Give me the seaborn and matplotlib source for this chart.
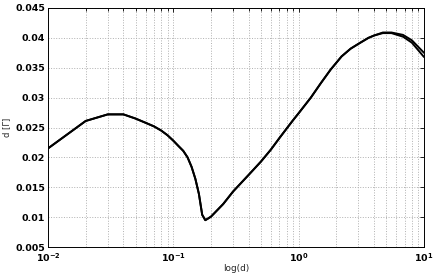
import matplotlib
matplotlib.use('Agg')
import matplotlib.pyplot as plt
import seaborn as sns
import pandas as pd

# values
d_vals = [0.01, 0.02, 0.03, 0.04, 0.05, 0.06, 0.07, 0.08, 0.09, 0.10, 0.11, 0.12, 0.13,
          0.14, 0.15, 0.16, 0.17, 0.18, 0.19, 0.20, 0.25, 0.30, 0.40, 0.50, 0.60, 0.70,
          0.80, 0.90, 1.0, 1.25, 1.5, 1.8, 2.2, 2.6, 3.05, 3.6, 4.0, 4.7, 5.5, 6.8, 8.0, 10.0]
gamma_vals = [0.0215, 0.0261, 0.0272, 0.0272, 0.0265, 0.0258, 0.0252, 0.0245, 0.0237, 0.0228,
              0.0219, 0.0211, 0.0200, 0.0184, 0.0164, 0.0139, 0.0104, 0.0095, 0.0098, 0.0101,
              0.0122, 0.0143, 0.0171, 0.0193, 0.0213, 0.0232, 0.0248, 0.0262, 0.0274, 0.0300,
              0.0324, 0.0347, 0.0369, 0.0382, 0.0391, 0.0400, 0.0404, 0.0408, 0.0408, 0.0402,
              0.0392, 0.0368]
# the tail is drawn thicker in the original: a second, slightly higher trace
gamma_upper = gamma_vals[:-5] + [0.0409, 0.0409, 0.0405, 0.0396, 0.0375]

x_ticks = [0.01, 0.1, 1, 10]
x_ticklabels = [r'$\mathbf{10^{-2}}$', r'$\mathbf{10^{-1}}$', r'$\mathbf{10^{0}}$', r'$\mathbf{10^{1}}$']
y_ticks = [0.005, 0.01, 0.015, 0.02, 0.025, 0.03, 0.035, 0.04, 0.045]
y_ticklabels = ['0.005', '0.01', '0.015', '0.02', '0.025', '0.03', '0.035', '0.04', '0.045']

sns.set_style('white')
plt.rcParams['font.family'] = ['DejaVu Sans']

df = pd.DataFrame({'d': d_vals + d_vals, 'g': gamma_vals + gamma_upper,
                   'trace': ['a'] * len(d_vals) + ['b'] * len(d_vals)})

fig = plt.figure(figsize=(4.36, 2.73), dpi=100)
ax = fig.add_axes([0.110, 0.095, 0.8625, 0.8757])
sns.lineplot(data=df, x='d', y='g', units='trace', estimator=None, color='black',
             linewidth=1.4, ax=ax, legend=False)
ax.set_xscale('log')
ax.set_xlim(0.01, 10)
ax.set_ylim(0.005, 0.045)

ax.set_xticks(x_ticks)
ax.set_xticklabels(x_ticklabels, fontsize=6.8)
ax.set_yticks(y_ticks)
ax.set_yticklabels(y_ticklabels, fontsize=6.8, fontweight='bold')

ax.grid(True, which='major', axis='both', linestyle=':', color='#b0b0b0', linewidth=0.7)
ax.grid(True, which='minor', axis='x', linestyle=':', color='#b0b0b0', linewidth=0.7)
ax.tick_params(which='both', direction='in', top=True, right=True, length=3, width=0.6,
               colors='black', pad=2)
ax.tick_params(axis='x', pad=3)
ax.tick_params(which='minor', length=1.8)
for s in ax.spines.values():
    s.set_color('black')
    s.set_linewidth(0.7)

ax.set_xlabel('log(d)', fontsize=6.4, labelpad=0)
ax.set_ylabel('d [Γ]', fontsize=6, labelpad=3)

fig.savefig('out.png', dpi=100)
